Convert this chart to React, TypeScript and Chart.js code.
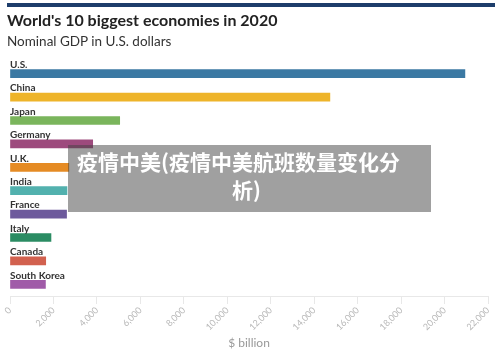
import React, { useEffect, useRef } from "react";
import { Chart, registerables } from "chart.js";

Chart.register(...registerables);

const countries = ["U.S.", "China", "Japan", "Germany", "U.K.", "India", "France", "Italy", "Canada", "South Korea"];
const gdp = [20937, 14723, 5049, 3806, 2708, 2623, 2603, 1886, 1644, 1631];
const barColors = ["#3b79a3", "#eeb42a", "#7ab55c", "#9d4a7d", "#e58b24", "#52b1ae", "#6d5a9c", "#2b8c63", "#d2614f", "#a05ba8"];
const axisMax = 22000;
const axisStep = 2000;
const titleText = "World's 10 biggest economies in 2020";
const subtitleText = "Nominal GDP in U.S. dollars";
const axisTitle = "$ billion";
const overlayLine1 = "疫情中美(疫情中美航班数量变化分";
const overlayLine2 = "析)";

const labelPlugin = {
  id: "barLabels",
  afterDatasetsDraw(chart: any) {
    const ctx = chart.ctx;
    const meta = chart.getDatasetMeta(0);
    ctx.save();
    ctx.font = "bold 10px Lato, 'Open Sans', sans-serif";
    ctx.fillStyle = "#333";
    ctx.textAlign = "left";
    ctx.textBaseline = "alphabetic";
    meta.data.forEach((bar: any, i: number) => {
      ctx.fillText(countries[i], chart.chartArea.left, bar.y - bar.height / 2 - 1.8);
    });
    ctx.restore();
  },
};

export default function App() {
  const ref = useRef<HTMLCanvasElement | null>(null);
  useEffect(() => {
    if (!ref.current) return;
    const chart = new Chart(ref.current, {
      type: "bar",
      data: {
        labels: countries,
        datasets: [
          {
            data: gdp,
            backgroundColor: barColors,
            borderWidth: 0,
            barThickness: 8,
          },
        ],
      },
      options: {
        indexAxis: "y",
        animation: false,
        responsive: false,
        maintainAspectRatio: false,
        layout: { padding: { top: 62, left: 10, right: 12, bottom: 0 } },
        plugins: { legend: { display: false }, tooltip: { enabled: false }, title: { display: false } },
        scales: {
          y: { display: false },
          x: {
            min: 0,
            max: axisMax,
            position: "bottom",
            afterFit: (scale: any) => {
              scale.height = 62;
              scale.paddingLeft = 0;
              scale.paddingRight = 0;
            },
            grid: { drawOnChartArea: false, drawTicks: true, tickLength: 8, color: "#e8e8e8" },
            border: { color: "#e8e8e8" },
            ticks: {
              stepSize: axisStep,
              autoSkip: false,
              minRotation: 45,
              maxRotation: 45,
              padding: 1,
              color: "#b8b8b8",
              font: { family: "Lato, 'Open Sans', sans-serif", size: 9 },
            },
            title: {
              display: true,
              text: axisTitle,
              color: "#999",
              font: { family: "Lato, 'Open Sans', sans-serif", size: 12 },
              padding: { top: 0, bottom: 8 },
            },
          },
        },
      },
      plugins: [labelPlugin],
    });
    return () => chart.destroy();
  }, []);

  return (
    <div style={{ position: "fixed", left: 0, top: 0, width: 500, height: 358, background: "#fff", overflow: "hidden" }}>
      <canvas ref={ref} width={500} height={358} style={{ position: "absolute", left: 0, top: 0, width: 500, height: 358 }} />
      <div style={{ position: "absolute", left: 7, top: 3, width: 488, height: 4, background: "#1d3d6b" }} />
      <div
        style={{
          position: "absolute",
          left: 7,
          top: 10,
          font: "bold 16px Lato, 'Open Sans', sans-serif",
          color: "#222",
          whiteSpace: "nowrap",
        }}
      >
        {titleText}
      </div>
      <div
        style={{
          position: "absolute",
          left: 7,
          top: 33,
          font: "13.5px Lato, 'Open Sans', sans-serif",
          color: "#333",
          whiteSpace: "nowrap",
        }}
      >
        {subtitleText}
      </div>
      <div
        style={{
          position: "absolute",
          left: 68,
          top: 145,
          width: 363,
          height: 67,
          boxSizing: "border-box",
          paddingTop: 2,
          background: "rgba(65,65,65,0.5)",
          color: "#fff",
          font: "bold 21px/28px 'Noto Sans CJK SC', sans-serif",
        }}
      >
        <div style={{ textAlign: "left", paddingLeft: 9, whiteSpace: "nowrap" }}>{overlayLine1}</div>
        <div style={{ textAlign: "center", paddingRight: 6 }}>{overlayLine2}</div>
      </div>
    </div>
  );
}
